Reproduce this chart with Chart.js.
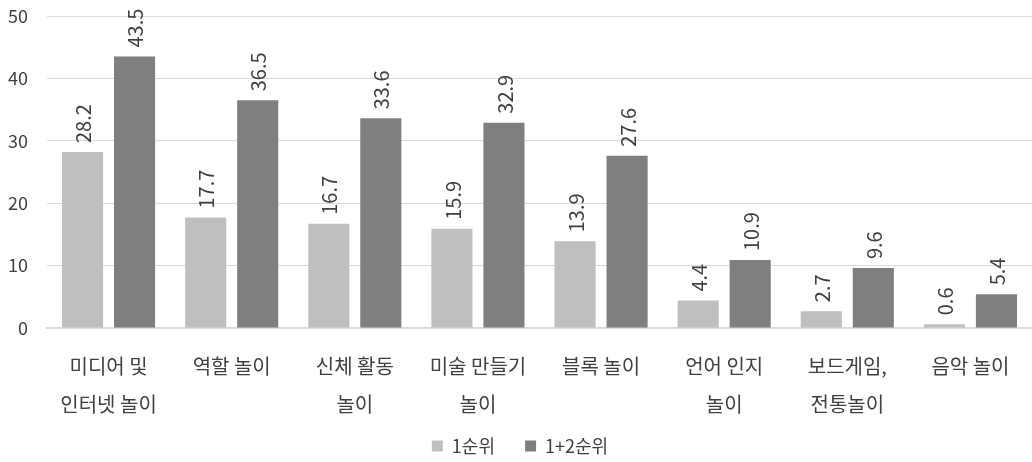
<!DOCTYPE html>
<html>
<head>
<meta charset="utf-8">
<script src="https://cdn.jsdelivr.net/npm/chart.js@4.4.1/dist/chart.umd.min.js"></script>
<style>
  html, body { margin: 0; padding: 0; background: #ffffff; }
  #wrap { width: 1032px; height: 462px; position: relative; }
</style>
</head>
<body>
<div id="wrap"><canvas id="c"></canvas></div>
<script>
// Play types (multi-line labels) and survey shares (%)
const categories = [
  ['미디어 및', '인터넷 놀이'],
  ['역할 놀이'],
  ['신체 활동', '놀이'],
  ['미술 만들기', '놀이'],
  ['블록 놀이'],
  ['언어 인지', '놀이'],
  ['보드게임,', '전통놀이'],
  ['음악 놀이']
];
const firstRank = [28.2, 17.7, 16.7, 15.9, 13.9, 4.4, 2.7, 0.6];
const firstSecondRank = [43.5, 36.5, 33.6, 32.9, 27.6, 10.9, 9.6, 5.4];
const seriesNames = ['1순위', '1+2순위'];
const yTicks = [0, 10, 20, 30, 40, 50];

const FONT = "'Noto Sans CJK KR', 'Noto Sans', sans-serif";
const TEXT = '#404040';

// Rotated value labels above each bar
const valueLabels = {
  id: 'valueLabels',
  afterDatasetsDraw(chart) {
    const ctx = chart.ctx;
    chart.data.datasets.forEach((ds, di) => {
      const meta = chart.getDatasetMeta(di);
      meta.data.forEach((bar, i) => {
        ctx.save();
        ctx.translate(bar.x, bar.y - 9);
        ctx.rotate(-Math.PI / 2);
        ctx.font = '20px ' + FONT;
        ctx.fillStyle = TEXT;
        ctx.textAlign = 'left';
        ctx.textBaseline = 'middle';
        ctx.fillText(ds.data[i].toFixed(1), 0, 1);
        ctx.restore();
      });
    });
  }
};

new Chart(document.getElementById('c'), {
  type: 'bar',
  data: {
    labels: categories,
    datasets: [
      { label: seriesNames[0], data: firstRank, backgroundColor: '#bfbfbf' },
      { label: seriesNames[1], data: firstSecondRank, backgroundColor: '#7f7f7f' }
    ]
  },
  options: {
    responsive: true,
    maintainAspectRatio: false,
    animation: false,
    categoryPercentage: 0.845,
    barPercentage: 0.79,
    layout: { autoPadding: false, padding: { top: 16, right: 0, left: 8, bottom: -3 } },
    scales: {
      x: {
        grid: { display: false, drawTicks: false },
        border: { display: true, color: '#d9d9d9', width: 2 },
        ticks: {
          color: TEXT,
          font: { family: FONT, size: 20, lineHeight: 1.9 },
          padding: 19,
          maxRotation: 0,
          autoSkip: false
        },
        afterFit(axis) {
          axis.height = 95;
          axis.paddingLeft = 0;
          axis.paddingRight = 0;
        }
      },
      y: {
        min: 0,
        max: 50,
        afterBuildTicks(axis) { axis.ticks = yTicks.map(v => ({ value: v })); },
        grid: { color: '#d9d9d9', lineWidth: 1, drawTicks: false },
        border: { display: false },
        ticks: {
          color: TEXT,
          font: { family: FONT, size: 18 },
          padding: 19
        },
        afterFit(axis) {
          axis.width = 39;
          axis.paddingTop = 0;
          axis.paddingBottom = 0;
        }
      }
    },
    plugins: {
      legend: {
        position: 'bottom',
        labels: {
          color: TEXT,
          font: { family: FONT, size: 18 },
          boxWidth: 11,
          boxHeight: 11,
          padding: 14,
          // widen the gap after the first entry
          generateLabels(chart) {
            const items = Chart.defaults.plugins.legend.labels.generateLabels(chart);
            items[0].text += '    ';
            return items;
          }
        }
      },
      tooltip: { enabled: false }
    }
  },
  plugins: [valueLabels]
});
</script>
</body>
</html>
